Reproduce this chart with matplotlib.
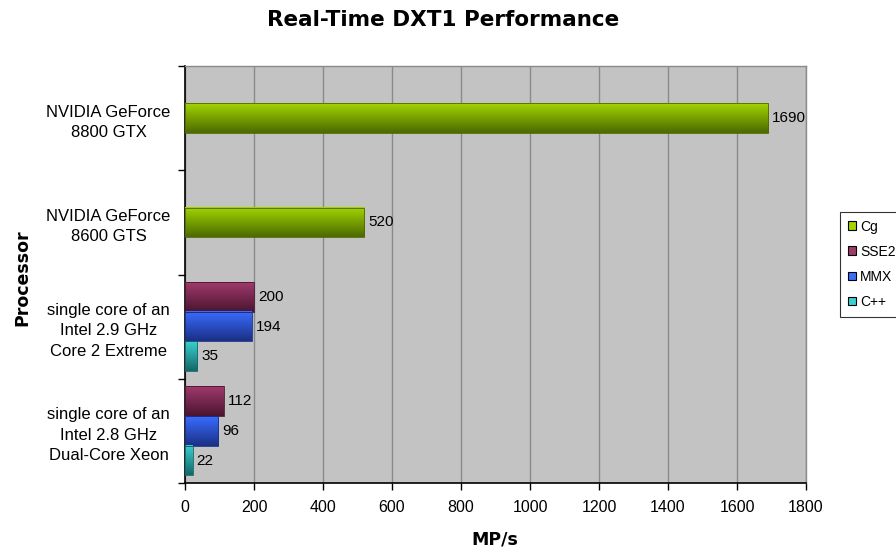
import numpy as np
import matplotlib
matplotlib.use("Agg")
import matplotlib.pyplot as plt
from matplotlib.colors import LinearSegmentedColormap
from matplotlib.patches import Rectangle, Patch

# datos
procesadores = ["NVIDIA GeForce\n8800 GTX",
                "NVIDIA GeForce\n8600 GTS",
                "single core of an\nIntel 2.9 GHz\nCore 2 Extreme",
                "single core of an\nIntel 2.8 GHz\nDual-Core Xeon"]
series = ["Cg", "SSE2", "MMX", "C++"]
cg = [1690, 520, None, None]
sse2 = [None, None, 200, 112]
mmx = [None, None, 194, 96]
cpp = [None, None, 35, 22]
xticks = [0, 200, 400, 600, 800, 1000, 1200, 1400, 1600, 1800]

# colores (claro arriba, oscuro abajo)
colores = {"Cg": ("#a2d400", "#4c6a00"),
           "SSE2": ("#a03a6c", "#4a1530"),
           "MMX": ("#3a6cff", "#1a3085"),
           "C++": ("#3ad0d0", "#146868")}

plt.rcParams['font.family'] = ['Liberation Sans', 'DejaVu Sans']

fig = plt.figure(figsize=(8.96, 5.5), dpi=100)
ax = fig.add_axes([185/896, 1-483/550, (806-185)/896, (483-66)/550])
ax.set_facecolor("#c3c3c3")

h = 0.285


def barra(y, valor, nombre):
    top, bot = colores[nombre]
    cmap = LinearSegmentedColormap.from_list(nombre, [top, bot])
    grad = np.linspace(0, 1, 64).reshape(-1, 1)
    # eje y invertido: la fila 0 de la imagen queda arriba
    ax.imshow(grad, cmap=cmap, aspect='auto', interpolation='bilinear',
              extent=[0, valor, y + h/2, y - h/2], origin='upper', zorder=3)
    ax.add_patch(Rectangle((0, y - h/2), valor, h, fill=False,
                           edgecolor=bot, linewidth=0.6, zorder=4))
    ax.text(valor + 12, y, str(valor), va='center', ha='left',
            fontsize=11, family='Liberation Sans', zorder=5)


for i in range(len(procesadores)):
    vals = [("Cg", cg[i]), ("SSE2", sse2[i]), ("MMX", mmx[i]), ("C++", cpp[i])]
    vals = [(n, v) for n, v in vals if v is not None]
    k = len(vals)
    for j, (n, v) in enumerate(vals):
        y = i + (j - (k - 1)/2) * h
        barra(y, v, n)

ax.set_xlim(0, 1800)
ax.set_ylim(len(procesadores) - 0.5, -0.5)

ax.set_xticks(xticks)
ax.set_xticklabels([str(x) for x in xticks], fontsize=11.5)
ax.tick_params(axis='x', direction='out', length=5, width=1, pad=7)
ax.grid(axis='x', color='#8a8a8a', linewidth=1, zorder=1)
ax.set_axisbelow(True)

ax.set_yticks(np.arange(-0.5, len(procesadores)), labels=[])
ax.set_yticks(np.arange(len(procesadores)), minor=True)
ax.set_yticklabels(procesadores, minor=True, fontsize=12, ha='center',
                   linespacing=1.45)
ax.tick_params(axis='y', which='major', direction='out', length=5, width=1)
ax.tick_params(axis='y', which='minor', length=0, pad=55)

for s in ["left", "bottom"]:
    ax.spines[s].set_color("black")
    ax.spines[s].set_linewidth(1.2)
for s in ["top", "right"]:
    ax.spines[s].set_color("#8a8a8a")
    ax.spines[s].set_linewidth(1)

fig.text(443/896, 1-20/550, "Real-Time DXT1 Performance", ha='center',
         va='center', fontsize=15.5, fontweight='bold', family='DejaVu Sans')
fig.text(495/896, 1-540/550, "MP/s", ha='center', va='center',
         fontsize=12.5, fontweight='bold', family='DejaVu Sans')
fig.text(22/896, 1-278/550, "Processor", ha='center', va='center',
         rotation=90, fontsize=12.5, fontweight='bold', family='DejaVu Sans')

handles = [Patch(facecolor=colores[n][0], edgecolor='black', linewidth=0.8)
           for n in series]
leg = fig.legend(handles, series, loc='upper left',
                 bbox_to_anchor=(840/896, 1-212/550), fontsize=10,
                 frameon=True, fancybox=False, edgecolor='black',
                 handlelength=0.6, handleheight=0.6, handletextpad=0.3,
                 labelspacing=0.8, borderpad=0.55, borderaxespad=0)
leg.get_frame().set_linewidth(0.8)

fig.savefig("out.png", dpi=100)
